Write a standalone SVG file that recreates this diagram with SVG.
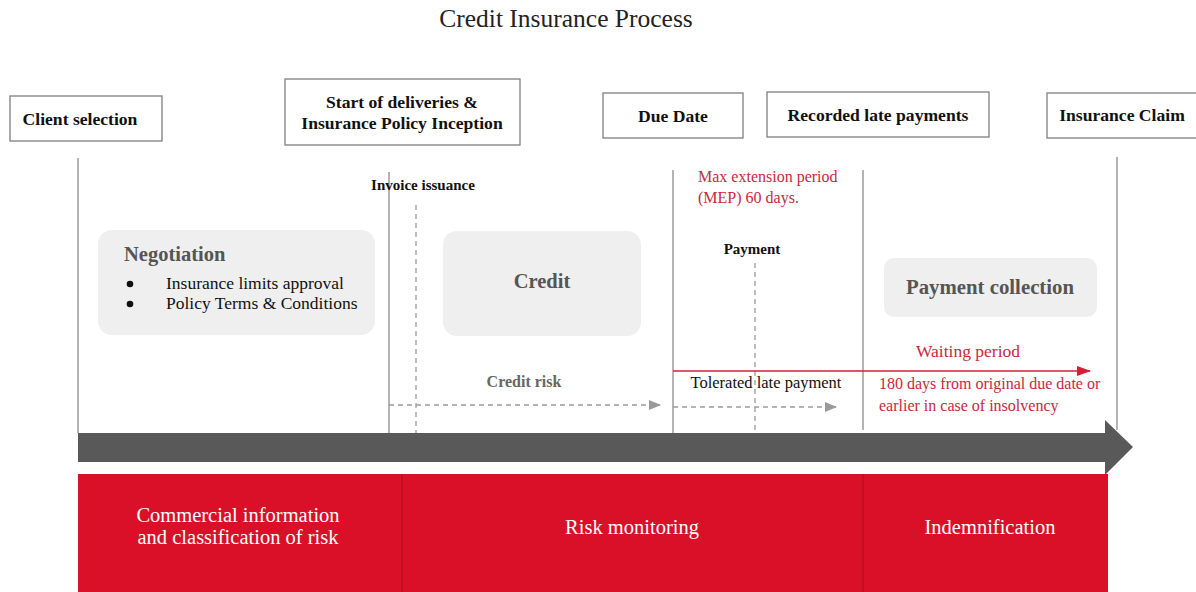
<svg xmlns="http://www.w3.org/2000/svg" width="1196" height="592" viewBox="0 0 1196 592">
<style>
text{font-family:"Liberation Serif","DejaVu Serif",serif}
.box{fill:#fff;stroke:#7f7f7f;stroke-width:1.3}
.hb{font-weight:bold;font-size:17.6px;fill:#111}
.vl{stroke:#8c8c8c;stroke-width:1.3;fill:none}
.dl{stroke:#9a9a9a;stroke-width:1.3;stroke-dasharray:5 4;fill:none}
.soft{fill:#efefef}
.wt{fill:#fff;font-size:20.5px}
.rt{fill:#c8283c;font-size:16px}
</style>
<defs>
<marker id="ga" markerWidth="12" markerHeight="10" refX="11" refY="5" orient="auto" markerUnits="userSpaceOnUse"><path d="M0,0 L12,5 L0,10 z" fill="#9a9a9a"/></marker>
<marker id="ra" markerWidth="14" markerHeight="10" refX="13" refY="5" orient="auto" markerUnits="userSpaceOnUse"><path d="M0,0 L14,5 L0,10 z" fill="#d41f35"/></marker>
</defs>
<rect width="1196" height="592" fill="#fff"/>
<text x="566" y="27" text-anchor="middle" font-size="25.5" fill="#222">Credit Insurance Process</text>

<g id="connectors">
<line class="vl" x1="78" y1="158" x2="78" y2="433"/>
<line class="vl" x1="389" y1="172" x2="389" y2="433"/>
<line class="vl" x1="673" y1="170" x2="673" y2="433"/>
<line class="vl" x1="863" y1="170" x2="863" y2="430"/>
<line class="vl" x1="1117" y1="157" x2="1117" y2="430"/>
<line class="dl" x1="416" y1="205" x2="416" y2="433"/>
<line class="dl" x1="755" y1="263" x2="755" y2="433"/>
<line class="dl" x1="389" y1="405" x2="660" y2="405" marker-end="url(#ga)"/>
<line class="dl" x1="673" y1="407" x2="836" y2="407" marker-end="url(#ga)"/>
<line x1="673" y1="371" x2="1090" y2="371" stroke="#d41f35" stroke-width="1.5" marker-end="url(#ra)"/>
<path d="M78,433 H1105 V420 L1133,447 L1105,475 V462 H78 Z" fill="#595959"/>
</g>

<g id="client-selection"><rect class="box" x="10" y="96" width="152" height="45"/><text class="hb" x="80" y="125" text-anchor="middle">Client selection</text></g>
<g id="start-deliveries"><rect class="box" x="285" y="79" width="235" height="66"/><text class="hb" x="402" y="108" text-anchor="middle">Start of deliveries &amp;</text><text class="hb" x="402" y="129" text-anchor="middle">Insurance Policy Inception</text></g>
<g id="due-date"><rect class="box" x="603" y="93" width="140" height="45"/><text class="hb" x="673" y="122" text-anchor="middle">Due Date</text></g>
<g id="recorded-late"><rect class="box" x="767" y="92" width="222" height="45"/><text class="hb" x="878" y="121" text-anchor="middle">Recorded late payments</text></g>
<g id="insurance-claim"><rect class="box" x="1047" y="93" width="160" height="45"/><text class="hb" x="1122" y="121" text-anchor="middle">Insurance Claim</text></g>

<g id="invoice-issuance"><text x="423" y="190" text-anchor="middle" font-size="15" font-weight="bold" fill="#111">Invoice issuance</text></g>
<g id="payment"><text x="752" y="254" text-anchor="middle" font-size="15" font-weight="bold" fill="#111">Payment</text></g>
<g id="mep"><text class="rt" x="698" y="182">Max extension period</text><text class="rt" x="698" y="203">(MEP) 60 days.</text></g>

<g id="negotiation"><rect class="soft" x="98" y="230" width="277" height="105" rx="14"/>
<text x="124" y="261" font-size="20.5" font-weight="bold" fill="#555">Negotiation</text>
<circle cx="130" cy="284" r="3.3" fill="#111"/><circle cx="130" cy="304" r="3.3" fill="#111"/>
<text x="166" y="289" font-size="17.5" fill="#111">Insurance limits approval</text>
<text x="166" y="309" font-size="17.5" fill="#111">Policy Terms &amp; Conditions</text></g>

<g id="credit"><rect class="soft" x="443" y="231" width="198" height="105" rx="14"/><text x="542" y="288" text-anchor="middle" font-size="20.5" font-weight="bold" fill="#555">Credit</text></g>
<g id="payment-collection"><rect class="soft" x="884" y="258" width="213" height="59" rx="10"/><text x="990" y="294" text-anchor="middle" font-size="20.8" font-weight="bold" fill="#555">Payment collection</text></g>

<g id="credit-risk"><text x="524" y="387" text-anchor="middle" font-size="16" font-weight="bold" fill="#666">Credit risk</text></g>
<g id="tolerated"><text x="766" y="388" text-anchor="middle" font-size="16.5" fill="#111">Tolerated late payment</text></g>
<g id="waiting-period"><text x="968" y="357" text-anchor="middle" font-size="17.5" fill="#c8283c">Waiting period</text>
<text class="rt" x="879" y="389">180 days from original due date or</text>
<text class="rt" x="879" y="411">earlier in case of insolvency</text></g>

<g id="phases">
<rect x="78" y="474" width="1030" height="118" fill="#d91027"/>
<line x1="402" y1="474" x2="402" y2="592" stroke="#a80d20" stroke-width="1"/>
<line x1="863" y1="474" x2="863" y2="592" stroke="#a80d20" stroke-width="1"/>
</g>
<g id="commercial-info"><text class="wt" x="238" y="522" text-anchor="middle">Commercial information</text><text class="wt" x="238" y="544" text-anchor="middle">and classification of risk</text></g>
<g id="risk-monitoring"><text class="wt" x="632" y="534" text-anchor="middle">Risk monitoring</text></g>
<g id="indemnification"><text class="wt" x="990" y="534" text-anchor="middle">Indemnification</text></g>
</svg>
